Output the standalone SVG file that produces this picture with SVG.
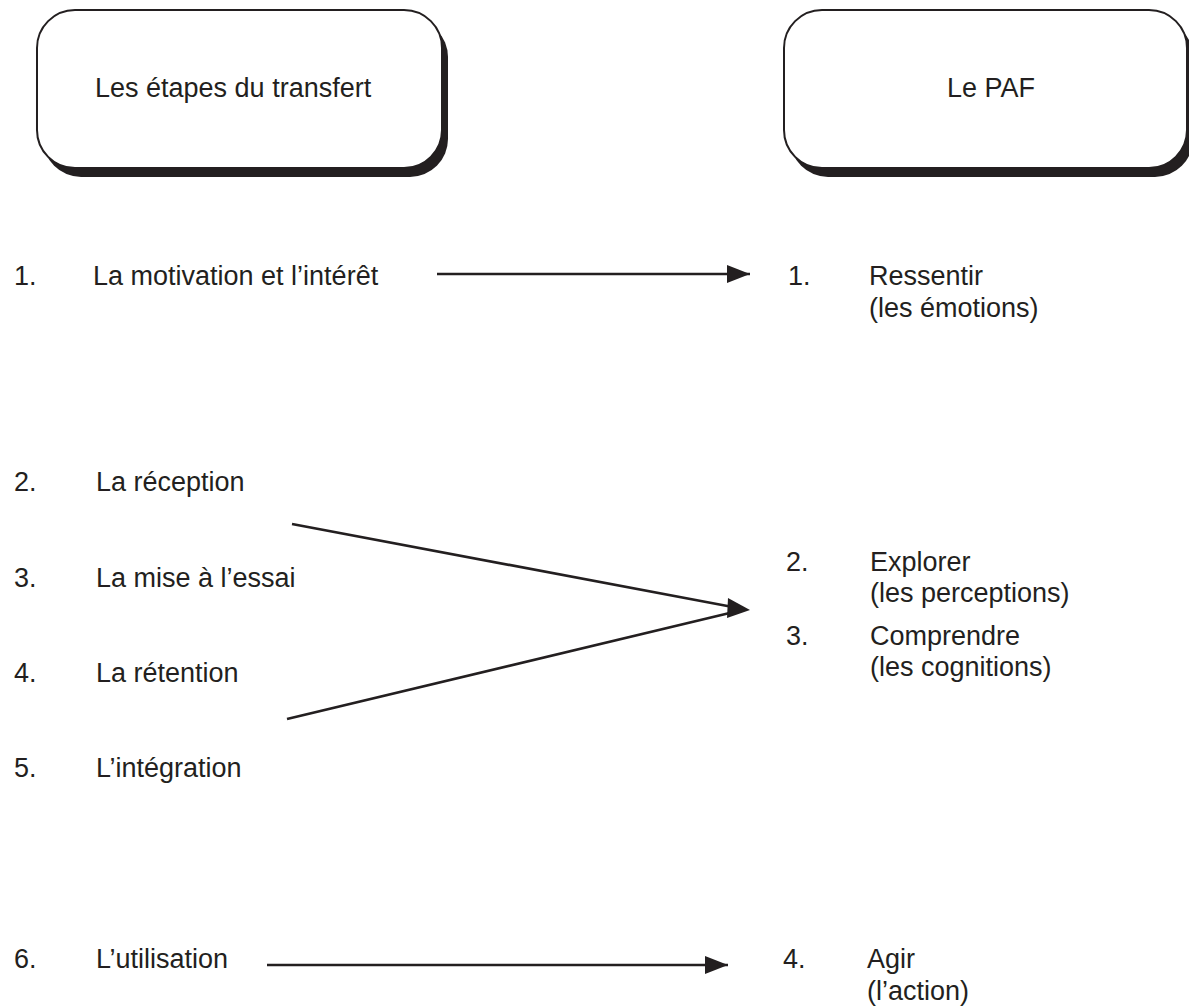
<svg xmlns="http://www.w3.org/2000/svg" width="1189" height="1007" viewBox="0 0 1189 1007">
<style>
text{font-family:"Liberation Sans",Arial,Helvetica,sans-serif;font-size:27px;fill:#231f20}
.box{fill:#fff;stroke:#231f20;stroke-width:2}
.shadow{fill:#231f20;stroke:none}
.line{stroke:#231f20;stroke-width:2.6;fill:none}
.head{fill:#231f20;stroke:none}
</style>
<defs>
<marker id="arr" markerUnits="userSpaceOnUse" markerWidth="24" markerHeight="20" refX="23" refY="9" orient="auto">
<path d="M0,0 L23,9 L0,18 Z" fill="#231f20"/>
</marker>
</defs>
<rect width="1189" height="1007" fill="#fff"/>
<g id="node-transfert">
<rect class="shadow" x="43" y="19" width="405" height="158" rx="38"/>
<rect class="box" x="37" y="10" width="405" height="158" rx="38"/>
<text x="95" y="97">Les étapes du transfert</text>
</g>
<g id="node-paf">
<rect class="shadow" x="790" y="19" width="403" height="158" rx="38"/>
<rect class="box" x="784" y="10" width="403" height="158" rx="38"/>
<text x="947" y="97">Le PAF</text>
</g>
<g id="left-list">
<text x="14" y="285">1.</text><text x="93" y="285">La motivation et l’intérêt</text>
<text x="14" y="491">2.</text><text x="96" y="491">La réception</text>
<text x="14" y="587">3.</text><text x="96" y="587">La mise à l’essai</text>
<text x="14" y="682">4.</text><text x="96" y="682">La rétention</text>
<text x="14" y="777">5.</text><text x="96" y="777">L’intégration</text>
<text x="14" y="968">6.</text><text x="96" y="968">L’utilisation</text>
</g>
<g id="right-list">
<text x="788" y="285">1.</text><text x="869" y="285">Ressentir</text><text x="869" y="317">(les émotions)</text>
<text x="786" y="571">2.</text><text x="870" y="571">Explorer</text><text x="870" y="602">(les perceptions)</text>
<text x="786" y="645">3.</text><text x="870" y="645">Comprendre</text><text x="870" y="676">(les cognitions)</text>
<text x="783" y="968">4.</text><text x="867" y="968">Agir</text><text x="867" y="1000">(l’action)</text>
</g>
<g id="connectors">
<line class="line" x1="437" y1="274" x2="750" y2="274" marker-end="url(#arr)"/>
<line class="line" x1="292" y1="524" x2="738" y2="608"/>
<line class="line" x1="287" y1="719" x2="738" y2="611"/>
<polygon class="head" points="728,598 750,610 727,618"/>
<line class="line" x1="267" y1="965" x2="728" y2="965" marker-end="url(#arr)"/>
</g>
</svg>
